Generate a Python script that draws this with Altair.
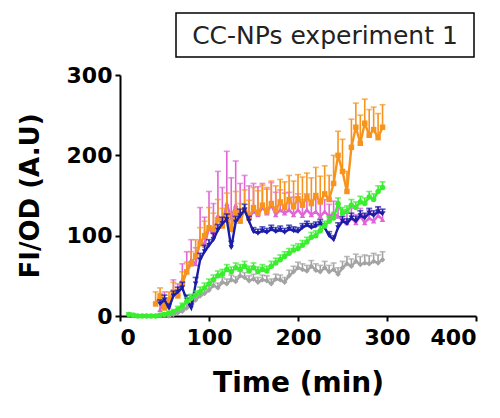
import altair as alt
import pandas as pd

# ---------------- data ----------------
title_text = "CC-NPs experiment 1"
series_names = ["Pink", "Orange", "Gray", "Blue", "Green"]
series_colors = ["#e066d6", "#f7941d", "#a3a3a3", "#1c1ca8", "#39ee2e"]
series_shapes = ["triangle-up", "square", "diamond", "triangle-down", "circle"]

x_ticks = [0, 100, 200, 300, 400]
y_ticks = [0, 100, 200, 300]

orange_t = list(range(40, 300, 5))
orange_v = [15, 25, 10, 20, 30, 25, 40, 55, 65, 75,
            90, 100, 110, 108, 120, 112, 125, 108, 130, 118,
            132, 122, 135, 128, 138, 130, 140, 132, 142, 135,
            145, 136, 146, 138, 148, 140, 150, 142, 152, 145,
            165, 200, 180, 155, 210, 235, 215, 240, 225, 232,
            222, 235]
orange_e = [15, 10, 8, 10, 12, 10, 15, 12, 15, 20,
            20, 18, 25, 20, 25, 22, 28, 20, 25, 22,
            25, 22, 25, 28, 25, 30, 28, 30, 28, 32,
            30, 32, 30, 35, 30, 32, 35, 32, 35, 30,
            35, 30, 40, 25, 35, 30, 35, 30, 32, 28,
            30, 28]

pink_t = list(range(45, 300, 5))
pink_v = [8, 20, 12, 30, 28, 45, 55, 70, 65, 95,
          88, 110, 100, 125, 115, 140, 122, 138, 120, 135,
          122, 130, 126, 135, 128, 138, 126, 132, 128, 132,
          126, 132, 125, 132, 126, 130, 124, 130, 124, 128,
          124, 120, 116, 122, 116, 124, 116, 122, 118, 125, 120]
pink_e = [8, 10, 8, 15, 12, 20, 25, 25, 20, 40,
          35, 45, 40, 55, 45, 65, 50, 55, 45, 40,
          40, 35, 35, 30, 30, 28, 28, 25, 25, 22,
          22, 20, 20, 20, 18, 18, 18, 15, 15, 15,
          15, 12, 12, 12, 10, 10, 10, 10, 10, 10, 10]

blue_t = list(range(45, 300, 5))
blue_v = [15, 20, 10, 25, 30, 35, 20, 10, 40, 70,
          80, 88, 95, 107, 115, 120, 85, 117, 125, 132,
          118, 105, 103, 106, 104, 108, 105, 107, 104, 108,
          106, 105, 110, 113, 110, 112, 115, 110, 100, 95,
          110, 118, 115, 122, 118, 125, 122, 128, 125, 130, 127]
blue_e = [5, 6, 5, 6, 6, 7, 6, 5, 8, 8,
          8, 7, 8, 7, 8, 7, 8, 7, 8, 7,
          6, 5, 5, 5, 5, 5, 5, 5, 5, 5,
          5, 5, 5, 5, 5, 5, 5, 5, 5, 5,
          6, 6, 6, 6, 6, 6, 6, 6, 6, 6, 6]

green_t = list(range(10, 300, 5))
green_v = [2, 1, 0, 0, 0, 0, 0, 1, 2, 3,
           5, 8, 12, 18, 22, 26, 30, 35, 40, 45,
           50, 52, 58, 55, 60, 58, 62, 56, 60, 55,
           58, 56, 62, 66, 70, 74, 78, 82, 84, 88,
           92, 98, 100, 106, 112, 118, 122, 140, 128, 130,
           138, 135, 142, 140, 148, 145, 155, 160]
green_e = [2, 2, 1, 1, 1, 1, 1, 2, 2, 3,
           3, 4, 4, 5, 5, 5, 6, 6, 6, 6,
           6, 6, 6, 6, 6, 6, 6, 6, 6, 6,
           6, 6, 6, 6, 6, 6, 6, 6, 6, 6,
           6, 6, 6, 6, 6, 6, 7, 7, 7, 7,
           7, 7, 7, 7, 7, 7, 7, 7]

gray_t = list(range(55, 300, 5))
gray_v = [0, 2, 4, 6, 10, 15, 20, 25, 28, 32,
          38, 35, 42, 40, 45, 43, 50, 48, 44, 46,
          42, 45, 44, 40, 46, 45, 42, 50, 55, 60,
          58, 56, 62, 57, 55, 60, 55, 58, 52, 60,
          65, 62, 68, 64, 66, 65, 68, 66, 70]
gray_e = [2, 2, 3, 3, 4, 4, 5, 5, 6, 6,
          6, 6, 6, 6, 6, 6, 6, 6, 6, 6,
          6, 6, 6, 6, 6, 6, 6, 7, 7, 7,
          7, 7, 7, 8, 8, 8, 8, 8, 8, 8,
          9, 9, 9, 10, 10, 10, 10, 10, 10]

series_data = {
    "Pink": (pink_t, pink_v, pink_e),
    "Orange": (orange_t, orange_v, orange_e),
    "Gray": (gray_t, gray_v, gray_e),
    "Blue": (blue_t, blue_v, blue_e),
    "Green": (green_t, green_v, green_e),
}

# ---------------- chart ----------------
FONT = "DejaVu Sans"
x_scale = alt.Scale(domain=[0, 400], nice=False)
y_scale = alt.Scale(domain=[0, 300], nice=False)

x_axis = alt.Axis(values=x_ticks, title="Time (min)", titlePadding=21,
                  labelPadding=6)
y_axis = alt.Axis(values=y_ticks, title="FI/OD (A.U)", titlePadding=23,
                  labelPadding=3, titleFontSize=26)

X = alt.X("time:Q", scale=x_scale, axis=x_axis)
Y = alt.Y("value:Q", scale=y_scale, axis=y_axis)
YU = alt.Y("upper:Q", scale=y_scale, axis=y_axis)

layers = []
for name, color, shape in zip(series_names, series_colors, series_shapes):
    t, v, e = series_data[name]
    df = pd.DataFrame({"time": t, "value": v, "err": e})
    df["upper"] = df["value"] + df["err"]
    base = alt.Chart(df)
    rule = base.mark_rule(color=color, strokeWidth=1.6).encode(
        x=X, y=Y, y2="upper:Q")
    cap = base.mark_tick(color=color, orient="horizontal", size=6,
                         thickness=1.6).encode(x=X, y=YU)
    line = base.mark_line(color=color, strokeWidth=2.4).encode(x=X, y=Y)
    pts = base.mark_point(color=color, filled=True, size=30, shape=shape,
                          opacity=1).encode(x=X, y=Y)
    layers += [line, rule, cap, pts]

title_df = pd.DataFrame({"label": [title_text]})
box = alt.Chart(title_df).mark_rect(fill="white", stroke="black",
                                    strokeWidth=1.5).encode(
    x=alt.value(56), x2=alt.value(354), y=alt.value(-62), y2=alt.value(-18))
title_mark = alt.Chart(title_df).mark_text(
    font=FONT, fontSize=25, color="#222222", align="center",
    baseline="middle").encode(
    x=alt.value(205), y=alt.value(-39), text="label:N")

chart = alt.layer(*layers, box, title_mark).properties(
    width=356, height=241,
    autosize=alt.AutoSizeParams(type="none"),
    padding={"left": 112, "top": 67, "right": 16, "bottom": 90},
).configure_view(stroke=None).configure_axis(
    grid=False,
    domainColor="black", domainWidth=2,
    tickColor="black", tickWidth=2, tickSize=5,
    labelFont=FONT, labelFontWeight="bold", labelFontSize=22,
    labelColor="black",
    titleFont=FONT, titleFontWeight="bold", titleFontSize=28,
    titleColor="black",
)

chart.save("out.html", embed_options={"renderer": "svg", "actions": False})
